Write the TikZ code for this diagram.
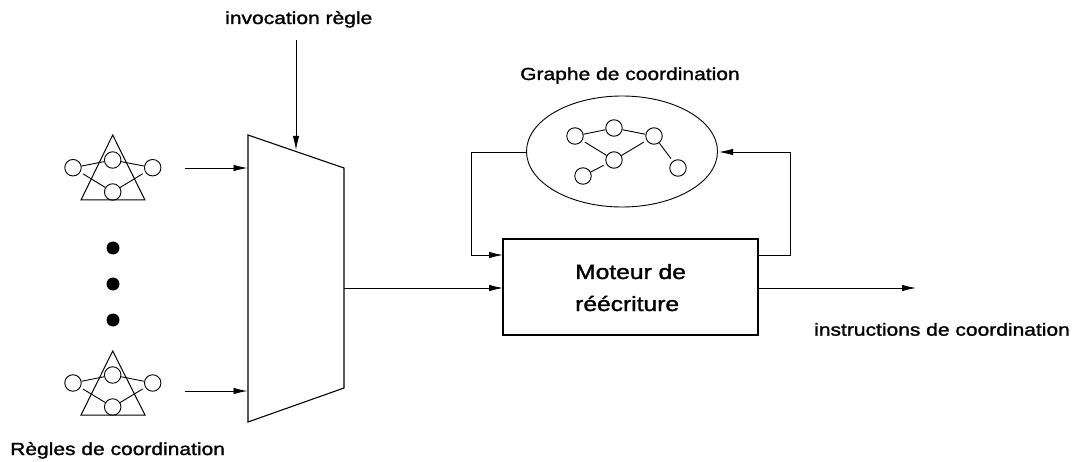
\documentclass[tikz,border=0pt]{standalone}
\usepackage{fontspec}
\setmainfont[FakeStretch=1.2,FakeBold=1.5]{Liberation Sans}
\usetikzlibrary{shapes.geometric,arrows.meta}
\tikzset{
  circ/.style={circle,draw,line width=0.9pt,minimum size=16.5pt,inner sep=0pt},
  dot/.style={circle,fill=black,minimum size=13pt,inner sep=0pt},
  lnk/.style={line width=0.9pt},
  gapa/.style={lnk,shorten <=3pt},
  gapb/.style={lnk,shorten >=3pt},
  shape line/.style={line width=1pt},
  arr/.style={line width=0.9pt,-{Latex[length=14pt,width=6.5pt]}},
  lab/.style={font=\fontsize{17.5}{20}\selectfont,inner sep=0pt,anchor=base west},
  mlab/.style={font=\fontsize{20.5}{23}\selectfont,inner sep=0pt,anchor=base west}
}
\begin{document}
\begin{tikzpicture}[x=1pt,y=-1pt]
\useasboundingbox (0,0) rectangle (1073,462);
% upper triangle
\coordinate (ta) at (112.7,135); \coordinate (tb) at (81,200); \coordinate (tc) at (145,200);
\draw[shape line] (ta) -- (tb) -- (tc) -- cycle;
\node[circ] (a1) at (73,167.7) {};
\node[circ] (a2) at (112.7,160) {};
\node[circ] (a3) at (152.7,167.7) {};
\node[circ] (a4) at (112.7,192) {};
\draw[lnk] (a1) -- (a2);
\draw[lnk] (a2) -- (a3);
\draw[gapa] (a1) -- (a4);
\draw[gapb] (a4) -- (a3);
% lower triangle
\coordinate (ua) at (112.7,351); \coordinate (ub) at (81,415); \coordinate (uc) at (145,415);
\draw[shape line] (ua) -- (ub) -- (uc) -- cycle;
\node[circ] (b1) at (73,383) {};
\node[circ] (b2) at (112.7,375) {};
\node[circ] (b3) at (152.7,383) {};
\node[circ] (b4) at (112.7,407) {};
\draw[lnk] (b1) -- (b2);
\draw[lnk] (b2) -- (b3);
\draw[gapa] (b1) -- (b4);
\draw[gapb] (b4) -- (b3);
% dots
\node[dot] (d1) at (113,248) {};
\node[dot] (d2) at (113,284) {};
\node[dot] (d3) at (113,320) {};
% selector
\coordinate (m1) at (248,135); \coordinate (m2) at (344,168); \coordinate (m3) at (344,388); \coordinate (m4) at (248,422);
\draw[line width=1.1pt] (m1) -- (m2) -- (m3) -- (m4) -- cycle;
\coordinate (s1) at (185,168); \coordinate (e1) at (247.5,168);
\coordinate (s2) at (185,391); \coordinate (e2) at (247.5,391);
\coordinate (s3) at (296,40); \coordinate (e3) at (296,150);
\draw[arr] (s1) -- (e1);
\draw[arr] (s2) -- (e2);
\draw[arr] (s3) -- (e3);
% ellipse graph
\node[ellipse,draw,line width=0.9pt,minimum width=191pt,minimum height=111pt,inner sep=0pt] (ell) at (622,151.5) {};
\node[circ] (g1) at (575,136) {};
\node[circ] (g2) at (614,128) {};
\node[circ] (g3) at (654,136) {};
\node[circ] (g4) at (614,160) {};
\node[circ] (g5) at (583,176) {};
\node[circ] (g6) at (678,168) {};
\draw[lnk] (g1) -- (g2);
\draw[lnk] (g2) -- (g3);
\draw[gapa] (g1) -- (g4);
\draw[gapb] (g4) -- (g3);
\draw[gapb] (g5) -- (g4);
\draw[gapb] (g3) -- (g6);
% engine
\node[draw,line width=1.25pt,minimum width=255pt,minimum height=96pt,inner sep=0pt] (eng) at (630.5,287) {};
\node[mlab] (t1) at (575,279) {Moteur de};
\node[mlab] (t2) at (575,311) {réécriture};
% connectors
\coordinate (lc1) at (471,152); \coordinate (lc2) at (471,255); \coordinate (rc1) at (790,255); \coordinate (rc2) at (790,152);
\coordinate (el) at (527,152); \coordinate (er) at (719,152);
\coordinate (rl) at (503,255); \coordinate (rr) at (758,255);
\draw[arr] (el) -- (lc1) -- (lc2) -- (rl);
\draw[arr] (rr) -- (rc1) -- (rc2) -- (er);
\coordinate (p1) at (344,288); \coordinate (p2) at (503,288); \coordinate (p3) at (758,288); \coordinate (p4) at (916,288);
\draw[arr] (p1) -- (p2);
\draw[arr] (p3) -- (p4);
% labels
\node[lab] (l1) at (225,24) {invocation règle};
\node[lab] (l2) at (520,80) {Graphe de coordination};
\node[lab] (l3) at (814,335.7) {instructions de coordination};
\node[lab] (l4) at (10,455) {Règles de coordination};
\end{tikzpicture}
\end{document}
